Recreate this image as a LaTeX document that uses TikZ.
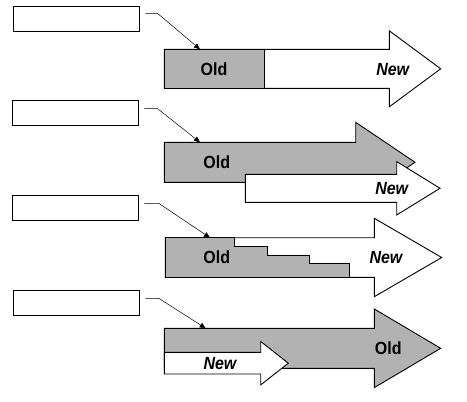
\documentclass[tikz,border=0pt]{standalone}
\usepackage{fontspec}
\setmainfont{Liberation Sans}
\usepackage{xcolor}
\usepackage{tikz}
\usetikzlibrary{calc,arrows.meta}
\definecolor{old}{HTML}{B2B2B2}
\definecolor{new}{HTML}{FFFFFF}
\definecolor{ink}{HTML}{000000}
\tikzset{
  tagbox/.style={draw=ink, line width=0.9pt, fill=white, minimum width=126pt, minimum height=25pt, inner sep=0pt},
  oldpart/.style={draw=ink, fill=old, line width=0.9pt, line join=miter},
  newpart/.style={draw=ink, fill=new, line width=0.9pt, line join=miter},
  lead/.style={draw=ink, line width=0.5pt, -{Triangle[length=6pt,width=5pt]}},
  labold/.style={font=\fontsize{16}{19}\selectfont\bfseries, inner sep=0pt, yscale=1.1},
  labnew/.style={font=\fontsize{16}{19}\selectfont\bfseries\itshape, inner sep=0pt, yscale=1.1}
}
% block arrow: #1 style, #2 tail x, #3 head x, #4 tip x, #5 mid y, #6 shaft half, #7 head half
\newcommand\blockarrow[7]{%
  \draw[#1] (#2,#5-#6) -- (#3,#5-#6) -- (#3,#5-#7) -- (#4,#5) -- (#3,#5+#7)
    -- (#3,#5+#6) -- (#2,#5+#6) -- cycle;}
\begin{document}
\begin{tikzpicture}[x=1pt,y=-1pt]
  \useasboundingbox (0,0) rectangle (467,402);

  % label boxes
  \node[tagbox] (tag1) at (76.3,18.8) {};
  \node[tagbox] (tag2) at (75.3,112.8) {};
  \node[tagbox] (tag3) at (75.3,208.3) {};
  \node[tagbox] (tag4) at (76.3,302.8) {};

  % row 1
  \blockarrow{newpart}{164.3}{389.3}{440.7}{68.8}{19.5}{38}
  \draw[oldpart] (164.3,49.3) rectangle (264.3,88.3);
  \node[labold] (old1) at (214,69.7) {Old};
  \node[labnew] (new1) at (392.7,69.7) {New};

  % row 2
  \blockarrow{oldpart}{164.3}{355.7}{415}{162.3}{20}{40}
  \blockarrow{newpart}{245.3}{396.7}{440}{188.3}{14}{26.7}
  \node[labold] (old2) at (216.7,162.7) {Old};
  \node[labnew] (new2) at (391.7,188.3) {New};

  % row 3
  \blockarrow{newpart}{165.3}{374.3}{441.7}{257.5}{19.8}{39.2}
  \draw[oldpart] (165.3,237.7) -- (234.3,237.7) -- (234.3,246.7) -- (267.3,246.7)
    -- (267.3,255.3) -- (309.3,255.3) -- (309.3,263.3) -- (349.3,263.3)
    -- (349.3,277.3) -- (165.3,277.3) -- cycle;
  \node[labold] (old3) at (216.7,257.7) {Old};
  \node[labnew] (new3) at (386,257.7) {New};

  % row 4
  \blockarrow{oldpart}{164.3}{374.3}{440.7}{348.3}{20}{39.3}
  \blockarrow{newpart}{164.3}{260.7}{288.3}{363.2}{10.8}{21.7}
  \node[labold] (old4) at (388.3,348.3) {Old};
  \node[labnew] (new4) at (220,363.3) {New};

  % leaders
  \coordinate (s1) at ($(tag1.east)+(5.7,-5.5)$);
  \coordinate (e1) at (200,49.3);
  \draw[lead] (s1) -- ++(12,0) -- (e1);
  \coordinate (s2) at ($(tag2.east)+(5.7,-4.5)$);
  \coordinate (e2) at (200,142.3);
  \draw[lead] (s2) -- ++(12.7,0) -- (e2);
  \coordinate (s3) at ($(tag3.east)+(5.7,-5)$);
  \coordinate (e3) at (210,237.7);
  \draw[lead] (s3) -- ++(14.3,0) -- (e3);
  \coordinate (s4) at ($(tag4.east)+(5.7,-4.5)$);
  \coordinate (e4) at (205.7,328.3);
  \draw[lead] (s4) -- ++(13.3,0) -- (e4);
\end{tikzpicture}
\end{document}
